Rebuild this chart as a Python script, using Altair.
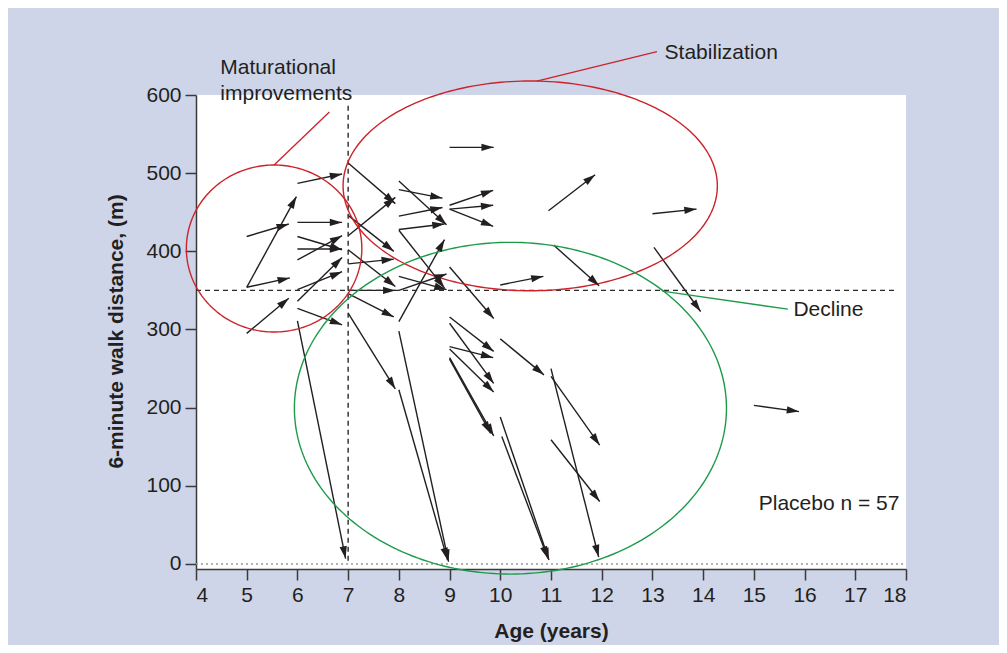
import altair as alt
import numpy as np
import pandas as pd

# ---- arrows (start age, start distance) -> (end age, end distance) ----
age_start = [6.0, 5.0, 5.0, 5.0, 5.0, 6.0, 6.0, 6.0, 6.0, 6.0, 6.0, 6.0, 6.0,
             7.0, 7.0, 7.0, 7.0, 7.0, 7.0, 7.0, 7.0,
             8.0, 8.0, 8.0, 8.0, 8.0, 8.0, 8.0, 8.0, 8.0, 8.0,
             9.0, 9.0, 9.0, 9.0, 9.0, 9.0, 9.0, 9.0, 9.0, 9.0, 9.0,
             10.0, 10.0, 10.03, 10.0,
             11.0, 11.0, 11.0, 10.95, 11.05,
             13.0, 13.03, 15.0]
dist_start = [487, 419, 354, 354, 295, 437, 419, 403, 389, 351, 336, 327, 311,
              513, 420, 446, 402, 384, 350, 346, 321,
              490, 479, 445, 428, 427, 368, 350, 310, 298, 223,
              459, 454, 454, 380, 316, 308, 278, 275, 262, 264, 533,
              288, 188, 163, 357,
              250, 240, 159, 452, 408,
              448, 405, 203]
age_end = [6.88, 5.83, 5.98, 5.85, 5.83, 6.88, 6.88, 6.88, 6.88, 6.88, 6.88, 6.88, 6.95,
           7.93, 7.93, 7.9, 7.93, 7.9, 7.93, 7.9, 7.93,
           8.94, 8.86, 8.86, 8.9, 8.9, 8.94, 8.94, 8.9, 8.98, 8.96,
           9.86, 9.86, 9.86, 9.87, 9.87, 9.87, 9.86, 9.87, 9.81, 9.87, 9.87,
           10.86, 10.96, 10.94, 10.85,
           11.94, 11.96, 11.96, 11.87, 11.95,
           13.87, 13.95, 15.89]
dist_end = [499, 435, 470, 366, 340, 437, 402, 403, 420, 374, 392, 306, 7,
            461, 469, 400, 355, 390, 350, 316, 224,
            434, 468, 456, 435, 353, 351, 371, 415, 3, 5,
            478, 459, 432, 314, 272, 231, 264, 220, 167, 164, 533,
            242, 5, 7, 368,
            9, 152, 80, 498, 356,
            454, 323, 195]

# ---- group ellipses: name, centre age, centre distance, radius (years), radius (m) ----
ell_names = ["Maturational", "Stabilization", "Decline"]
ell_cx = [5.54, 10.59, 10.2]
ell_cy = [403.6, 483.7, 199.3]
ell_rx = [1.73, 3.69, 4.26]
ell_ry = [106.8, 134.2, 212.2]

RED = "#cc2229"
GREEN = "#1d9a4a"
INK = "#231f20"
BG = "#ced5e8"
FONT = "Liberation Sans"

X_DOM = [4, 18]
Y_DOM = [-6.4, 600]
W, H = 710, 474
px_x = W / (X_DOM[1] - X_DOM[0])
px_y = H / (Y_DOM[1] - Y_DOM[0])

arrows = pd.DataFrame({"x1": age_start, "y1": dist_start, "x2": age_end, "y2": dist_end})
dxp = (arrows["x2"] - arrows["x1"]) * px_x
dyp = -(arrows["y2"] - arrows["y1"]) * px_y
arrows["ang"] = (np.degrees(np.arctan2(dxp, -dyp)) + 360) % 360

xs = alt.Scale(domain=X_DOM, nice=False, zero=False)
ys = alt.Scale(domain=Y_DOM, nice=False, zero=False)

base_x = alt.X("x1:Q", scale=xs, axis=alt.Axis(
    values=list(range(4, 19)), title="Age (years)", grid=False,
    labelFontSize=21, labelColor=INK, labelFont=FONT, labelPadding=4,
    tickSize=11, tickColor="#3a3a3a", tickWidth=1.5,
    domainColor="#3a3a3a", domainWidth=1.5,
    titleFontSize=21, titleFont=FONT, titleFontWeight="bold", titleColor=INK,
    titleY=62, titleBaseline="middle"))
base_y = alt.Y("y1:Q", scale=ys, axis=alt.Axis(
    values=list(range(0, 601, 100)), title="6-minute walk distance, (m)", grid=False,
    labelFontSize=21, labelColor=INK, labelFont=FONT, labelPadding=4,
    tickSize=11, tickColor="#3a3a3a", tickWidth=1.5,
    domainColor="#3a3a3a", domainWidth=1.5,
    titleFontSize=21, titleFont=FONT, titleFontWeight="bold", titleColor=INK,
    titleX=-80, titleY=236, titleAngle=270, titleAlign="center", titleBaseline="middle"))

shafts = alt.Chart(arrows).mark_rule(color=INK, strokeWidth=1.4).encode(
    x=base_x, y=base_y, x2="x2:Q", y2="y2:Q")
heads = alt.Chart(arrows).mark_point(
    shape="M0,0L0.3,1L-0.3,1Z", filled=True, size=600, opacity=1, color=INK, strokeWidth=0
).encode(x=alt.X("x2:Q", scale=xs), y=alt.Y("y2:Q", scale=ys),
         angle=alt.Angle("ang:Q", scale=None))

# reference lines
zero_line = alt.Chart(pd.DataFrame({"x1": [4], "x2": [18], "y1": [0]})).mark_rule(
    color="#9a9a9a", strokeWidth=1.3, strokeDash=[2, 3]).encode(
    x=alt.X("x1:Q", scale=xs), x2="x2:Q", y=alt.Y("y1:Q", scale=ys))
h_dash = alt.Chart(pd.DataFrame({"x1": [4], "x2": [17.81], "y1": [350]})).mark_rule(
    color="#2a2a2a", strokeWidth=1.4, strokeDash=[5, 4]).encode(
    x=alt.X("x1:Q", scale=xs), x2="x2:Q", y=alt.Y("y1:Q", scale=ys))
v_dash = alt.Chart(pd.DataFrame({"x1": [7], "y1": [4], "y2": [588]})).mark_rule(
    color="#2a2a2a", strokeWidth=1.4, strokeDash=[5, 4]).encode(
    x=alt.X("x1:Q", scale=xs), y=alt.Y("y1:Q", scale=ys), y2="y2:Q")

# ellipses
t = np.linspace(0, 2 * np.pi, 241)
ell_layers = []
for name, cx, cy, rx, ry, col in zip(ell_names, ell_cx, ell_cy, ell_rx, ell_ry, [RED, RED, GREEN]):
    d = pd.DataFrame({"x1": cx + rx * np.cos(t), "y1": cy + ry * np.sin(t), "o": np.arange(len(t))})
    ell_layers.append(alt.Chart(d).mark_line(color=col, strokeWidth=1.4).encode(
        x=alt.X("x1:Q", scale=xs), y=alt.Y("y1:Q", scale=ys), order="o:Q"))

# leader lines
leaders = pd.DataFrame({
    "x1": [5.54, 10.72, 13.19],
    "y1": [510.4, 617.9, 349.0],
    "x2": [6.63, 13.09, 15.67],
    "y2": [578.2, 655.4, 326.0],
    "c": [RED, RED, GREEN],
})
leader_layer = alt.Chart(leaders).mark_rule(strokeWidth=1.3).encode(
    x=alt.X("x1:Q", scale=xs), y=alt.Y("y1:Q", scale=ys), x2="x2:Q", y2="y2:Q",
    color=alt.Color("c:N", scale=None))

# labels
left_labels = pd.DataFrame({
    "x1": [4.48, 4.48, 13.24, 15.78],
    "y1": [634.5, 601.0, 654.0, 325.0],
    "t": ["Maturational", "improvements", "Stabilization", "Decline"],
})
left_text = alt.Chart(left_labels).mark_text(
    align="left", baseline="middle", fontSize=21, font=FONT, color=INK).encode(
    x=alt.X("x1:Q", scale=xs), y=alt.Y("y1:Q", scale=ys), text="t:N")
right_labels = pd.DataFrame({"x1": [17.87], "y1": [77.0], "t": ["Placebo n = 57"]})
right_text = alt.Chart(right_labels).mark_text(
    align="right", baseline="middle", fontSize=21, font=FONT, color=INK).encode(
    x=alt.X("x1:Q", scale=xs), y=alt.Y("y1:Q", scale=ys), text="t:N")

chart = alt.layer(
    shafts, zero_line, h_dash, v_dash, *ell_layers, leader_layer,
    heads, left_text, right_text
).properties(
    width=W, height=H,
    autosize=alt.AutoSizeParams(type="none"),
    padding={"left": 188, "top": 87, "right": 93, "bottom": 76},
    background=BG,
).configure_view(fill="white", strokeWidth=0)

chart.save("out.html", embed_options={"renderer": "svg", "actions": False})
